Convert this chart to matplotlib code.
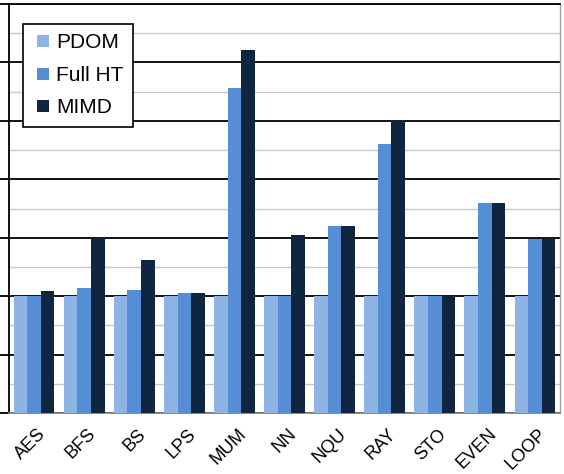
import numpy as np
import matplotlib.pyplot as plt
from matplotlib.lines import Line2D
from matplotlib.ticker import MultipleLocator

plt.rcParams['font.family'] = ['Liberation Sans', 'DejaVu Sans']

# Benchmarks and normalised values
benchmarks = ['AES', 'BFS', 'BS', 'LPS', 'MUM', 'NN', 'NQU', 'RAY', 'STO', 'EVEN', 'LOOP']
pdom = [1.0, 1.0, 1.0, 1.0, 1.0, 1.0, 1.0, 1.0, 1.0, 1.0, 1.0]
full_ht = [1.0, 1.07, 1.05, 1.03, 2.78, 1.0, 1.60, 2.30, 1.0, 1.80, 1.49]
mimd = [1.04, 1.50, 1.31, 1.03, 3.11, 1.52, 1.60, 2.51, 1.0, 1.80, 1.49]

series = [('PDOM', pdom, '#8DB4E2'),
          ('Full HT', full_ht, '#558ED5'),
          ('MIMD', mimd, '#10253F')]

fig = plt.figure(figsize=(5.64, 4.74), dpi=100)
ax = fig.add_axes([9 / 564, 61 / 474, 551 / 564, 409 / 474])

x = np.arange(len(benchmarks))
w = 0.272
for i, (name, vals, col) in enumerate(series):
    ax.bar(x + (i - 1) * w, vals, width=w, color=col, label=name, zorder=3)

ax.set_xlim(-0.5, len(benchmarks) - 0.5)
ax.set_ylim(0, 3.5)
ax.yaxis.set_major_locator(MultipleLocator(0.5))
ax.yaxis.set_minor_locator(MultipleLocator(0.25))
ax.grid(which='major', axis='y', color='black', linewidth=1.3, zorder=1)
ax.grid(which='minor', axis='y', color='#C8C8C8', linewidth=1.0, zorder=1)
ax.tick_params(axis='y', which='major', direction='out', length=7, width=1.3,
               labelleft=False)
ax.tick_params(axis='y', which='minor', length=0)
ax.tick_params(axis='x', length=0, pad=9)

ax.set_xticks(x + 0.06)
ax.set_xticklabels(benchmarks, rotation=45, ha='right', rotation_mode='anchor',
                   fontsize=13)

ax.spines['left'].set_color('black')
ax.spines['left'].set_linewidth(1.3)
ax.spines['top'].set_color('black')
ax.spines['top'].set_linewidth(1.3)
ax.spines['bottom'].set_color('#808080')
ax.spines['bottom'].set_linewidth(1.3)
ax.spines['right'].set_color('#A0A0A0')
ax.spines['right'].set_linewidth(1.0)

# square legend keys
handles = [Line2D([], [], linestyle='none', marker='s', markersize=8,
                  markerfacecolor=col, markeredgewidth=0)
           for _, _, col in series]
labels = [name for name, _, _ in series]
leg = ax.legend(handles, labels, loc='upper left',
                bbox_to_anchor=(14 / 551, 1 - 20 / 409),
                fontsize=15, frameon=True, fancybox=False, framealpha=1,
                edgecolor='black', handlelength=1.0, handletextpad=0.15,
                labelspacing=0.65, borderpad=0.45, borderaxespad=0)
leg.get_frame().set_linewidth(1.2)
leg.set_zorder(5)

fig.savefig('out.png', dpi=100)
